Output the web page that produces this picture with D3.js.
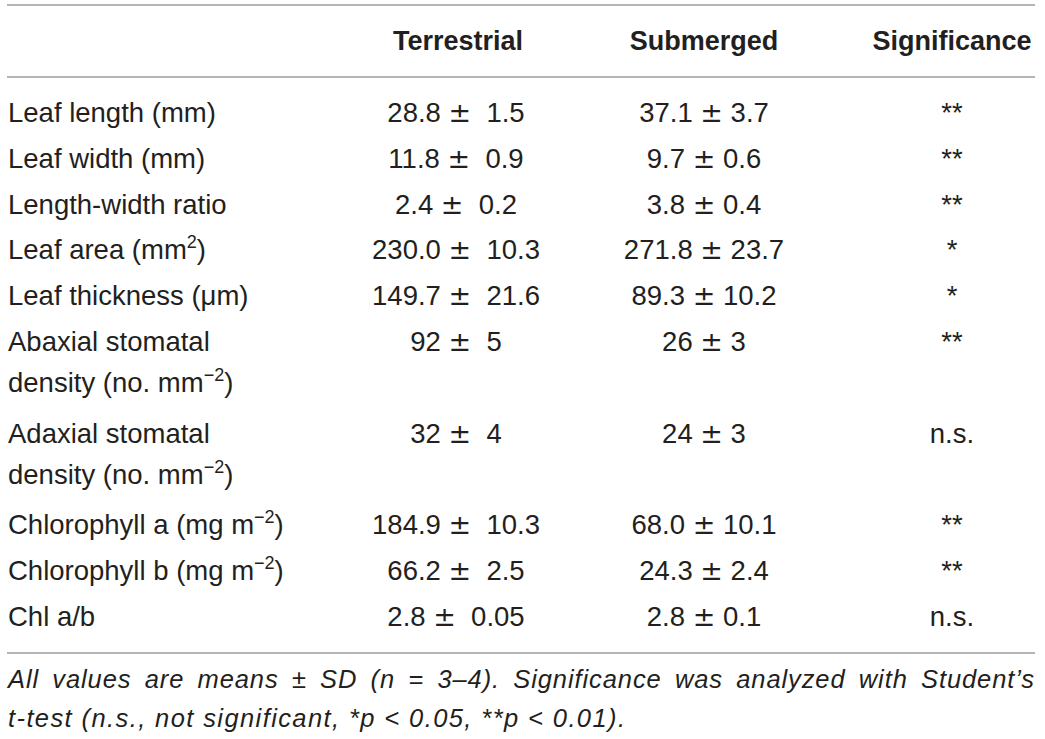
<!DOCTYPE html>
<html lang="en">
	<head>
		<meta charset="UTF-8" />
		<title>Leaf traits table</title>
		<style>
			body { margin: 0; background: #fff; }
			text { font-family: 'Liberation Sans', Arial, sans-serif; fill: #231f20; white-space: pre; }
		</style>
	</head>
	<body>
		<svg id="svg" width="1045" height="739"></svg>
		<script src="https://d3js.org/d3.v7.min.js"></script>
		<script>
			// table content
			const columns = ['', 'Terrestrial', 'Submerged', 'Significance'];
			// each label is a list of lines, each line a list of [text, superscript]
			const rowLabels = [
				[[['Leaf length (mm)', '']]],
				[[['Leaf width (mm)', '']]],
				[[['Length-width ratio', '']]],
				[[['Leaf area (mm', '2'], [')', '']]],
				[[['Leaf thickness (\u03bcm)', '']]],
				[[['Abaxial stomatal', '']], [['density (no. mm', '\u22122'], [')', '']]],
				[[['Adaxial stomatal', '']], [['density (no. mm', '\u22122'], [')', '']]],
				[[['Chlorophyll a (mg m', '\u22122'], [')', '']]],
				[[['Chlorophyll b (mg m', '\u22122'], [')', '']]],
				[[['Chl a/b', '']]],
			];
			const terrestrialMean = ['28.8', '11.8', '2.4', '230.0', '149.7', '92', '32', '184.9', '66.2', '2.8'];
			const terrestrialSD = ['1.5', '0.9', '0.2', '10.3', '21.6', '5', '4', '10.3', '2.5', '0.05'];
			const submergedMean = ['37.1', '9.7', '3.8', '271.8', '89.3', '26', '24', '68.0', '24.3', '2.8'];
			const submergedSD = ['3.7', '0.6', '0.4', '23.7', '10.2', '3', '3', '10.1', '2.4', '0.1'];
			const significance = ['**', '**', '**', '*', '*', '**', 'n.s.', '**', '**', 'n.s.'];
			const footnote1 = 'All values are means \u00b1  SD (n = 3\u20134). Significance was analyzed with Student\u2019s';
			const footnote2 = 't-test (n.s., not significant, *p < 0.05, **p < 0.01).';

			const svg = d3.select('#svg');
			const fs = '27.5px';

			// column anchors
			const x = d3.scaleOrdinal().domain(columns).range([8, 456, 704, 952]);

			// line index -> baseline (wrapped second lines sit a bit closer)
			const lineStart = [];
			let n = 0;
			rowLabels.forEach((r) => { lineStart.push(n); n += r.length; });
			const y = d3.scaleLinear().domain([0, n - 1]).range([122, 626]);
			const wrapGap = 41;

			// rules
			const rules = [5, 77, 653];
			svg.selectAll('line.rule')
				.data(rules)
				.enter()
				.append('line')
				.attr('class', 'rule')
				.attr('x1', 7)
				.attr('x2', 1035)
				.attr('y1', (d) => d)
				.attr('y2', (d) => d)
				.attr('stroke', '#9c9c9c')
				.attr('stroke-width', 1.6);

			// header
			svg.selectAll('text.head')
				.data(columns.slice(1))
				.enter()
				.append('text')
				.attr('class', 'head')
				.attr('x', (d) => x(d) + (d === 'Terrestrial' ? 2 : 0))
				.attr('y', 50)
				.attr('text-anchor', 'middle')
				.style('font-weight', 'bold')
				.style('font-size', '27px')
				.text((d) => d);

			// row labels
			rowLabels.forEach((lines, i) => {
				lines.forEach((parts, j) => {
					const t = svg.append('text')
						.attr('x', x(''))
						.attr('y', y(lineStart[i]) + j * wrapGap)
						.style('font-size', fs);
					let back = 0;
					parts.forEach(([s, sup]) => {
						t.append('tspan').attr('dy', back).text(s);
						back = 0;
						if (sup) {
							t.append('tspan').attr('dy', -11).style('font-size', '18px').text(sup);
							back = 11;
						}
					});
				});
			});

			const cells = d3.range(rowLabels.length).map((i) => ({
				y: y(lineStart[i]),
				terr: [terrestrialMean[i] + ' ', '\u00b1', '  ' + terrestrialSD[i]],
				sub: [submergedMean[i] + ' ', '\u00b1', ' ' + submergedSD[i]],
				sig: significance[i],
			}));

			function pm(sel, key, col) {
				const t = sel.append('text')
					.attr('x', x(col))
					.attr('y', (d) => d.y)
					.attr('text-anchor', 'middle')
					.style('font-size', fs);
				t.append('tspan').text((d) => d[key][0]);
				t.append('tspan').style('font-family', 'DejaVu Sans').style('font-size', '27px').text((d) => d[key][1]);
				t.append('tspan').text((d) => d[key][2]);
			}

			const row = svg.selectAll('g.row')
				.data(cells)
				.enter()
				.append('g')
				.attr('class', 'row');
			pm(row, 'terr', 'Terrestrial');
			pm(row, 'sub', 'Submerged');
			row.append('text')
				.attr('x', x('Significance'))
				.attr('y', (d) => d.y)
				.attr('text-anchor', 'middle')
				.style('font-size', fs)
				.text((d) => d.sig);

			// footnote, first line justified
			const words = footnote1.split(/ +/);
			const fn = svg.append('g')
				.style('font-size', '25.5px')
				.style('font-style', 'italic');
			const ws = fn.selectAll('text')
				.data(words)
				.enter()
				.append('text')
				.attr('y', 688)
				.style('letter-spacing', '0.9px')
				.text((d) => d);
			const widths = ws.nodes().map((nd) => nd.getComputedTextLength());
			const gap = (1035 - 8 - d3.sum(widths)) / (words.length - 1);
			let cx = 8;
			ws.attr('x', (d, i) => {
				const v = cx;
				cx += widths[i] + gap;
				return v;
			});
			fn.append('text')
				.attr('x', 8)
				.attr('y', 727)
				.attr('textLength', 617)
				.attr('lengthAdjust', 'spacing')
				.text(footnote2);
		</script>
	</body>
</html>
